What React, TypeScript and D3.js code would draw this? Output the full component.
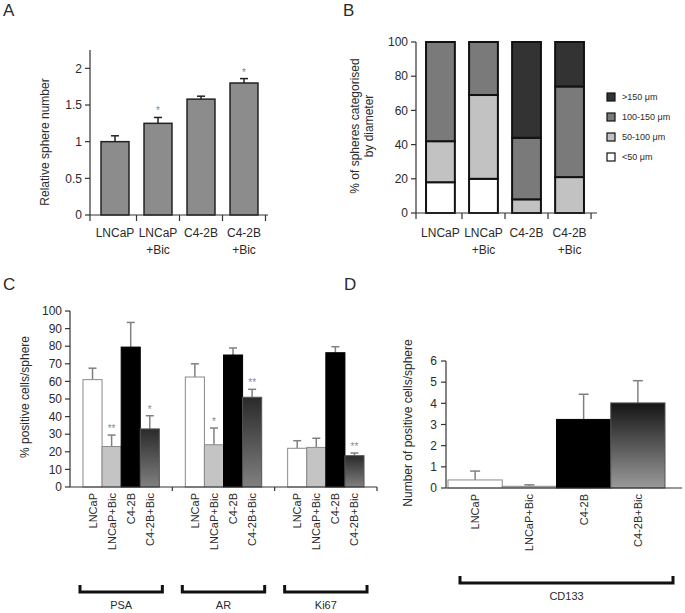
import React from "react";
import * as d3 from "d3";

// ---------- Panel A data ----------
const catsA = ["LNCaP", "LNCaP+Bic", "C4-2B", "C4-2B+Bic"];
const labelsA = [["LNCaP"], ["LNCaP", "+Bic"], ["C4-2B"], ["C4-2B", "+Bic"]];
const sphereNumber = [1.0, 1.25, 1.58, 1.8];
const sphereErr = [0.08, 0.08, 0.04, 0.06];
const sphereStars = ["", "*", "", "*"];
const ticksA = [0, 0.5, 1, 1.5, 2];

// ---------- Panel B data ----------
const sizeClasses = ["<50 μm", "50-100 μm", "100-150 μm", ">150 μm"];
const pctSmall = [18, 20, 0, 0];
const pctMid = [24, 49, 8, 21];
const pctLarge = [58, 31, 36, 53];
const pctXL = [0, 0, 56, 26];
const ticksB = [0, 20, 40, 60, 80, 100];

// ---------- Panel C data ----------
const markers = ["PSA", "AR", "Ki67"];
const treatments = ["LNCaP", "LNCaP+Bic", "C4-2B", "C4-2B+Bic"];
const psaVals = [61, 23, 79.5, 33];
const psaErr = [6.5, 6.5, 14, 7.5];
const psaStars = ["", "**", "", "*"];
const arVals = [62.5, 24, 75, 51];
const arErr = [7.5, 9.5, 4, 4.5];
const arStars = ["", "*", "", "**"];
const ki67Vals = [22, 22.5, 76.3, 17.8];
const ki67Err = [4.3, 5.2, 3.4, 1.5];
const ki67Stars = ["", "", "", "**"];
const ticksC = [0, 10, 20, 30, 40, 50, 60, 70, 80, 90, 100];

// ---------- Panel D data ----------
const cd133Vals = [0.38, 0.08, 3.24, 4.02];
const cd133Err = [0.42, 0.07, 1.19, 1.05];
const ticksD = [0, 1, 2, 3, 4, 5, 6];

const FONT = "'Liberation Sans', Arial, Helvetica, sans-serif";
const TXT = "#2a2a2a";

function PanelA() {
  const y = d3.scaleLinear().domain([0, 2.25]).range([215, 50]);
  const x = d3.scaleBand<string>().domain(catsA).range([93.5, 265.5]).paddingInner(0.35).paddingOuter(0.175);
  const bw = x.bandwidth();
  const step = x.step();
  const x0 = 90;
  return (
    <g>
      <text x={3} y={16} fontSize={17} fill={TXT}>A</text>
      {catsA.map((c, i) => {
        const xb = x(c)!;
        const top = y(sphereNumber[i]);
        const et = y(sphereNumber[i] + sphereErr[i]);
        const cx = xb + bw / 2;
        return (
          <g key={c}>
            <line x1={cx} x2={cx} y1={top} y2={et} stroke="#222" strokeWidth={1.5} />
            <line x1={cx - 4} x2={cx + 4} y1={et} y2={et} stroke="#222" strokeWidth={1.5} />
            <rect x={xb} y={top} width={bw} height={y(0) - top} fill="#8c8c8c" stroke="#222" strokeWidth={1.5} />
            {sphereStars[i] && (
              <text x={cx} y={et - 3} textAnchor="middle" fontSize={10} fill="#888">{sphereStars[i]}</text>
            )}
            {labelsA[i].map((l, j) => (
              <text key={j} x={cx} y={237 + j * 16.5} textAnchor="middle" fontSize={12} fill={TXT}>{l}</text>
            ))}
            <line x1={xb + bw + (step - bw) / 2} x2={xb + bw + (step - bw) / 2} y1={y(0)} y2={y(0) + 6} stroke="#333" strokeWidth={1.2} />
          </g>
        );
      })}
      <line x1={x0} x2={x0} y1={50} y2={y(0) + 6} stroke="#333" strokeWidth={1.2} />
      <line x1={x0} x2={268} y1={y(0)} y2={y(0)} stroke="#333" strokeWidth={1.2} />
      {ticksA.map((t) => (
        <g key={t}>
          <line x1={x0 - 5} x2={x0} y1={y(t)} y2={y(t)} stroke="#333" strokeWidth={1.2} />
          <text x={x0 - 8} y={y(t)} dy="0.35em" textAnchor="end" fontSize={12} fill={TXT}>{t}</text>
        </g>
      ))}
      <text transform="translate(45,142) rotate(-90)" textAnchor="middle" dominantBaseline="central" fontSize={12} fill={TXT}>
        Relative sphere number
      </text>
    </g>
  );
}

function PanelB() {
  const y = d3.scaleLinear().domain([0, 100]).range([213, 42]);
  const x = d3.scaleBand<string>().domain(catsA).range([416, 594]).paddingInner(0.33).paddingOuter(0.233);
  const bw = x.bandwidth();
  const step = x.step();
  const keys = ["s", "m", "l", "xl"];
  const table = catsA.map((c, i) => ({ cat: c, s: pctSmall[i], m: pctMid[i], l: pctLarge[i], xl: pctXL[i] }));
  const series = d3.stack<any>().keys(keys)(table);
  const fills = ["#ffffff", "#c2c2c2", "#7a7a7a", "#333333"];
  const x0 = 416;
  const legendOrder = [3, 2, 1, 0];
  return (
    <g>
      <text x={343} y={16} fontSize={17} fill={TXT}>B</text>
      {series.map((s, k) =>
        s.map((d, i) => {
          if (d[1] - d[0] <= 0) return null;
          const xb = x(catsA[i])!;
          return (
            <rect key={k + "-" + i} x={xb} y={y(d[1])} width={bw} height={y(d[0]) - y(d[1])} fill={fills[k]} stroke="#111" strokeWidth={2} />
          );
        })
      )}
      {catsA.map((c, i) => {
        const xb = x(c)!;
        const cx = xb + bw / 2;
        const tx = xb + bw + (step - bw) / 2;
        return (
          <g key={c}>
            {labelsA[i].map((l, j) => (
              <text key={j} x={cx} y={237 + j * 16.5} textAnchor="middle" fontSize={12} fill={TXT}>{l}</text>
            ))}
            <line x1={tx} x2={tx} y1={y(0)} y2={y(0) + 6} stroke="#333" strokeWidth={1.2} />
          </g>
        );
      })}
      <line x1={x0} x2={x0} y1={y(100)} y2={y(0) + 6} stroke="#333" strokeWidth={1.2} />
      <line x1={x0} x2={597} y1={y(0)} y2={y(0)} stroke="#333" strokeWidth={1.2} />
      {ticksB.map((t) => (
        <g key={t}>
          <line x1={x0 - 5} x2={x0} y1={y(t)} y2={y(t)} stroke="#333" strokeWidth={1.2} />
          <text x={x0 - 8} y={y(t)} dy="0.35em" textAnchor="end" fontSize={12} fill={TXT}>{t}</text>
        </g>
      ))}
      <text transform="translate(355,126) rotate(-90)" textAnchor="middle" dominantBaseline="central" fontSize={12} fill={TXT}>
        % of spheres categorised
      </text>
      <text transform="translate(369,126) rotate(-90)" textAnchor="middle" dominantBaseline="central" fontSize={12} fill={TXT}>
        by diameter
      </text>
      {legendOrder.map((k, r) => (
        <g key={k}>
          <rect x={607} y={93 + r * 20} width={8} height={8} fill={fills[k]} stroke="#111" strokeWidth={1.2} />
          <text x={622} y={97 + r * 20} dy="0.35em" fontSize={9} fill={TXT}>{sizeClasses[k]}</text>
        </g>
      ))}
    </g>
  );
}

function Bracket({ x1, x2, y, label, ly }: { x1: number; x2: number; y: number; label: string; ly: number }) {
  return (
    <g>
      <path d={`M${x1},${y - 7}V${y}H${x2}V${y - 7}`} fill="none" stroke="#111" strokeWidth={3} />
      <text x={(x1 + x2) / 2} y={ly} textAnchor="middle" fontSize={11} fill={TXT}>{label}</text>
    </g>
  );
}

function PanelC() {
  const y = d3.scaleLinear().domain([0, 100]).range([487, 311]);
  const xg = d3.scaleBand<string>().domain(markers).range([70, 377]);
  const xi = d3.scaleBand<string>().domain(treatments).range([0, xg.bandwidth()]).paddingInner(0).paddingOuter(0.68);
  const bw = xi.bandwidth();
  const vals = [psaVals, arVals, ki67Vals];
  const errs = [psaErr, arErr, ki67Err];
  const stars = [psaStars, arStars, ki67Stars];
  const fills = ["#ffffff", "#c4c4c4", "#000000", "url(#gradC)"];
  const strokes = ["#8a8a8a", "#8a8a8a", "#000", "#555"];
  const x0 = 70;
  return (
    <g>
      <defs>
        <linearGradient id="gradC" x1="0" y1="0" x2="0" y2="1">
          <stop offset="0" stopColor="#2a2a2a" />
          <stop offset="1" stopColor="#808080" />
        </linearGradient>
      </defs>
      <text x={3} y={290} fontSize={17} fill={TXT}>C</text>
      {markers.map((m, g) => {
        const gx = xg(m)!;
        return (
          <g key={m}>
            {treatments.map((t, i) => {
              const xb = gx + xi(t)!;
              const cx = xb + bw / 2;
              const top = y(vals[g][i]);
              const et = y(vals[g][i] + errs[g][i]);
              return (
                <g key={t}>
                  <line x1={cx} x2={cx} y1={top} y2={et} stroke="#808080" strokeWidth={1.5} />
                  <line x1={cx - 4} x2={cx + 4} y1={et} y2={et} stroke="#808080" strokeWidth={1.5} />
                  <rect x={xb} y={top} width={bw} height={y(0) - top} fill={fills[i]} stroke={strokes[i]} strokeWidth={1} />
                  {stars[g][i] && (
                    <text x={cx} y={et - 3} textAnchor="middle" fontSize={10} fill="#8a8a8a">{stars[g][i]}</text>
                  )}
                  <text transform={`translate(${cx + 4},493) rotate(-90)`} textAnchor="end" fontSize={11} fill={TXT}>{t}</text>
                </g>
              );
            })}
            <line x1={gx + xg.bandwidth()} x2={gx + xg.bandwidth()} y1={y(0)} y2={y(0) + 4} stroke="#333" strokeWidth={1.2} />
            <Bracket x1={gx + xi(treatments[0])! - 3} x2={gx + xi(treatments[3])! + bw + 3} y={592} label={m} ly={609} />
          </g>
        );
      })}
      <line x1={x0} x2={x0} y1={y(100)} y2={y(0)} stroke="#333" strokeWidth={1.2} />
      <line x1={x0} x2={377} y1={y(0)} y2={y(0)} stroke="#333" strokeWidth={1.2} />
      {ticksC.map((t) => (
        <g key={t}>
          <line x1={x0 - 5} x2={x0} y1={y(t)} y2={y(t)} stroke="#333" strokeWidth={1.2} />
          <text x={x0 - 8} y={y(t)} dy="0.35em" textAnchor="end" fontSize={12} fill={TXT}>{t}</text>
        </g>
      ))}
      <text transform="translate(25,397) rotate(-90)" textAnchor="middle" dominantBaseline="central" fontSize={12} fill={TXT}>
        % positive cells/sphere
      </text>
    </g>
  );
}

function PanelD() {
  const y = d3.scaleLinear().domain([0, 6]).range([488, 361]);
  const x = d3.scaleBand<string>().domain(treatments).range([448, 665]);
  const bw = x.bandwidth();
  const fills = ["#ffffff", "#c4c4c4", "#000000", "url(#gradD)"];
  const strokes = ["#8a8a8a", "#8a8a8a", "#000", "#555"];
  const x0 = 446;
  return (
    <g>
      <defs>
        <linearGradient id="gradD" x1="0" y1="0" x2="0" y2="1">
          <stop offset="0" stopColor="#151515" />
          <stop offset="1" stopColor="#9a9a9a" />
        </linearGradient>
      </defs>
      <text x={344} y={290} fontSize={17} fill={TXT}>D</text>
      {treatments.map((t, i) => {
        const xb = x(t)!;
        const cx = xb + bw / 2;
        const top = y(cd133Vals[i]);
        const et = y(cd133Vals[i] + cd133Err[i]);
        return (
          <g key={t}>
            <line x1={cx} x2={cx} y1={top} y2={et} stroke="#808080" strokeWidth={1.5} />
            <line x1={cx - 5} x2={cx + 5} y1={et} y2={et} stroke="#808080" strokeWidth={1.5} />
            <rect x={xb} y={top} width={bw} height={y(0) - top} fill={fills[i]} stroke={strokes[i]} strokeWidth={1} />
            <text transform={`translate(${cx + 4},494) rotate(-90)`} textAnchor="end" fontSize={11} fill={TXT}>{t}</text>
          </g>
        );
      })}
      <line x1={x0} x2={x0} y1={y(6)} y2={y(0)} stroke="#333" strokeWidth={1.2} />
      <line x1={x0} x2={682} y1={y(0)} y2={y(0)} stroke="#333" strokeWidth={1.2} />
      {ticksD.map((t) => (
        <g key={t}>
          <line x1={x0 - 5} x2={x0} y1={y(t)} y2={y(t)} stroke="#333" strokeWidth={1.2} />
          <text x={x0 - 9} y={y(t)} dy="0.35em" textAnchor="end" fontSize={12} fill={TXT}>{t}</text>
        </g>
      ))}
      <text transform="translate(408,423) rotate(-90)" textAnchor="middle" dominantBaseline="central" fontSize={12} fill={TXT}>
        Number of positive cells/sphere
      </text>
      <Bracket x1={460} x2={673} y={583} label="CD133" ly={600} />
    </g>
  );
}

export default function App() {
  return (
    <svg
      width={685}
      height={613}
      viewBox="0 0 685 613"
      style={{ position: "absolute", left: 0, top: 0, display: "block", background: "#fff" }}
      fontFamily={FONT}
    >
      <rect width={685} height={613} fill="#fff" />
      <PanelA />
      <PanelB />
      <PanelC />
      <PanelD />
    </svg>
  );
}
